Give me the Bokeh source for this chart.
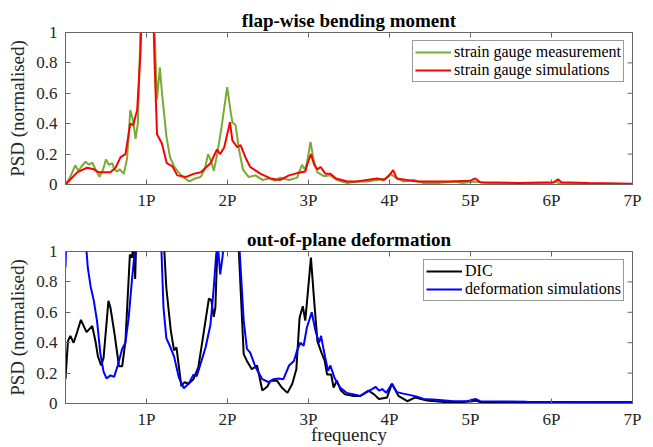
import math
from bokeh.plotting import figure
from bokeh.layouts import column
from bokeh.models import FixedTicker, LinearAxis, Range1d, Legend, LegendItem
from bokeh.embed import file_html
from bokeh.resources import INLINE

# ---------------- data (x in multiples of rotor frequency P) ----------------
x_ticks = [1, 2, 3, 4, 5, 6, 7]
x_tick_labels = ["1P", "2P", "3P", "4P", "5P", "6P", "7P"]
y_ticks = [0, 0.2, 0.4, 0.6, 0.8, 1]
y_tick_labels = ["0", "0.2", "0.4", "0.6", "0.8", "1"]
x_limits = [0, 7]
y_limits = [0, 1]

titles = ["flap-wise bending moment", "out-of-plane deformation"]
y_label = "PSD (normalised)"
x_label = "frequency"

sg_meas_x = [0, 0.06, 0.12, 0.16, 0.2, 0.247, 0.29, 0.33, 0.37, 0.42, 0.465, 0.5, 0.535, 0.58, 0.6,
             0.64, 0.67, 0.72, 0.76, 0.8, 0.835, 0.865, 0.893, 0.915, 0.94, 1.0, 1.07, 1.1, 1.13,
             1.165, 1.19, 1.245, 1.29, 1.34, 1.38, 1.45, 1.53, 1.6, 1.67, 1.72, 1.76, 1.8, 1.83,
             1.87, 1.93, 1.996, 2.04, 2.06, 2.1, 2.14, 2.19, 2.26, 2.345, 2.43, 2.51, 2.59, 2.65,
             2.76, 2.86, 2.92, 2.96, 2.99, 3.025, 3.06, 3.11, 3.19, 3.27, 3.35, 3.48, 3.6, 3.72,
             3.85, 3.95, 4.01, 4.09, 4.17, 4.3, 4.42, 4.6, 4.79, 4.9, 5.05, 5.2, 5.5, 5.8, 6.0,
             6.05, 6.1, 6.5, 7.0]
sg_meas_y = [0, 0.05, 0.126, 0.09, 0.12, 0.15, 0.13, 0.145, 0.10, 0.05, 0.10, 0.165, 0.13, 0.14, 0.10,
             0.085, 0.10, 0.07, 0.17, 0.49, 0.42, 0.30, 0.40, 0.82, 1.3, 2.0, 1.3, 1.0, 0.56,
             0.77, 0.61, 0.32, 0.18, 0.12, 0.09, 0.05, 0.02, 0.04, 0.05, 0.10, 0.20, 0.15, 0.09,
             0.19, 0.39, 0.64, 0.475, 0.41, 0.39, 0.235, 0.10, 0.05, 0.06, 0.03, 0.04, 0.025, 0.045,
             0.03, 0.045, 0.13, 0.095, 0.17, 0.28, 0.17, 0.08, 0.055, 0.06, 0.03, 0.01, 0.02, 0.02,
             0.03, 0.04, 0.07, 0.04, 0.02, 0.03, 0.01, 0.01, 0.02, 0.01, 0.02, 0.01, 0.008, 0.01, 0.005,
             0.02, 0.005, 0.005, 0.003]

sg_sim_x = [0, 0.144, 0.2, 0.267, 0.35, 0.41, 0.555, 0.617, 0.68, 0.74, 0.8, 0.835, 0.885, 0.926,
            0.95, 1.02, 1.08, 1.1, 1.13, 1.19, 1.25, 1.32, 1.38, 1.49, 1.58, 1.67, 1.79, 1.87, 1.91,
            1.96, 2.03, 2.06, 2.12, 2.16, 2.22, 2.28, 2.41, 2.53, 2.65, 2.76, 2.86, 2.96, 2.99, 3.03,
            3.07, 3.11, 3.15, 3.21, 3.27, 3.34, 3.48, 3.6, 3.72, 3.85, 3.93, 3.99, 4.045, 4.09, 4.21,
            4.34, 4.5, 4.75, 5.0, 5.06, 5.12, 5.6, 6.03, 6.08, 6.12, 6.45, 7.0]
sg_sim_y = [0, 0.08, 0.095, 0.11, 0.10, 0.08, 0.08, 0.11, 0.18, 0.20, 0.40, 0.39, 0.49, 0.87,
            1.3, 2.0, 1.2, 0.8, 0.33, 0.27, 0.14, 0.12, 0.06, 0.05, 0.07, 0.08, 0.14, 0.23, 0.20,
            0.245, 0.41, 0.29, 0.245, 0.26, 0.18, 0.115, 0.07, 0.04, 0.03, 0.06, 0.075, 0.085, 0.14, 0.20,
            0.13, 0.10, 0.115, 0.07, 0.07, 0.04, 0.02, 0.02, 0.03, 0.04, 0.03, 0.055, 0.095, 0.04, 0.03,
            0.02, 0.02, 0.02, 0.025, 0.04, 0.015, 0.01, 0.015, 0.035, 0.015, 0.01, 0.005]

dic_x = [0, 0.03, 0.06, 0.1, 0.144, 0.19, 0.26, 0.33, 0.37, 0.4, 0.44, 0.47, 0.53, 0.555, 0.605,
         0.66, 0.7, 0.74, 0.795, 0.82, 0.84, 0.86, 0.88, 0.95, 1.1, 1.21, 1.245, 1.3, 1.34, 1.37,
         1.43, 1.47, 1.52, 1.58, 1.64, 1.69, 1.77, 1.8, 1.83, 1.85, 1.87, 1.89, 2.0, 2.12, 2.14,
         2.2, 2.24, 2.3, 2.365, 2.43, 2.49, 2.53, 2.61, 2.67, 2.74, 2.8, 2.85, 2.89, 2.93, 2.96,
         2.99, 3.03, 3.07, 3.11, 3.16, 3.2, 3.23, 3.28, 3.31, 3.35, 3.4, 3.45, 3.56, 3.64, 3.74,
         3.81, 3.87, 3.97, 4.03, 4.11, 4.22, 4.32, 4.46, 4.79, 5.02, 5.06, 5.12, 5.5, 6.0, 6.5,
         6.8, 7.0]
dic_y = [0.16, 0.41, 0.445, 0.40, 0.47, 0.55, 0.47, 0.51, 0.41, 0.31, 0.25, 0.30, 0.675, 0.63, 0.46,
         0.245, 0.245, 0.41, 0.98, 0.96, 1.05, 0.82, 1.2, 2.0, 2.0, 1.1, 0.76, 0.48, 0.35, 0.37,
         0.115, 0.14, 0.13, 0.16, 0.24, 0.41, 0.69, 0.68, 0.57, 0.63, 0.94, 1.2, 2.0, 1.3, 1.0,
         0.325, 0.28, 0.225, 0.25, 0.085, 0.11, 0.15, 0.15, 0.105, 0.07, 0.13, 0.225, 0.565, 0.64, 0.545,
         0.72, 0.96, 0.675, 0.41, 0.335, 0.28, 0.19, 0.19, 0.105, 0.15, 0.085, 0.06, 0.05, 0.05, 0.085,
         0.06, 0.03, 0.04, 0.13, 0.05, 0.015, 0.04, 0.02, 0.005, 0.015, 0.02, 0.01, 0.005, 0.005, 0.0,
         0.0, 0.005]

def_sim_x = [0, 0.01, 0.1, 0.24, 0.26, 0.275, 0.31, 0.35, 0.39, 0.43, 0.47, 0.506, 0.555, 0.6, 0.645,
             0.7, 0.74, 0.78, 0.82, 0.855, 0.9, 1.0, 1.16, 1.185, 1.21, 1.245, 1.295, 1.34, 1.4, 1.46,
             1.52, 1.58, 1.62, 1.69, 1.73, 1.79, 1.83, 1.86, 1.88, 1.91, 1.94, 1.96, 2.05, 2.13, 2.15,
             2.2, 2.24, 2.28, 2.345, 2.43, 2.51, 2.57, 2.63, 2.69, 2.76, 2.82, 2.86, 2.9, 2.94, 2.98,
             3.04, 3.085, 3.13, 3.155, 3.19, 3.24, 3.27, 3.32, 3.39, 3.47, 3.56, 3.64, 3.72, 3.785, 3.83,
             3.87, 3.91, 3.96, 4.03, 4.09, 4.17, 4.26, 4.34, 4.42, 4.58, 4.79, 4.96, 5.06, 5.12, 5.7,
             6.5, 7.0]
def_sim_y = [0.895, 1.1, 2.0, 1.3, 1.0, 0.895, 0.77, 0.675, 0.54, 0.33, 0.21, 0.165, 0.185, 0.175, 0.25,
             0.36, 0.40, 0.565, 0.81, 1.0, 1.5, 2.0, 1.3, 1.0, 0.63, 0.43, 0.37, 0.31, 0.17, 0.10,
             0.13, 0.19, 0.18, 0.30, 0.37, 0.52, 0.76, 0.98, 1.05, 0.85, 0.97, 1.1, 2.0, 1.3, 1.0,
             0.545, 0.36, 0.335, 0.24, 0.16, 0.14, 0.16, 0.165, 0.16, 0.25, 0.28, 0.35, 0.40, 0.38, 0.50,
             0.60, 0.48, 0.40, 0.445, 0.345, 0.215, 0.25, 0.17, 0.105, 0.07, 0.06, 0.05, 0.075, 0.095, 0.11,
             0.085, 0.095, 0.07, 0.13, 0.075, 0.065, 0.055, 0.045, 0.03, 0.025, 0.015, 0.015, 0.03, 0.015, 0.012,
             0.01, 0.01]

series_top = [("strain gauge measurement", sg_meas_x, sg_meas_y, "#77AC30"),
              ("strain gauge simulations", sg_sim_x, sg_sim_y, "#FF0000")]
series_bot = [("DIC", dic_x, dic_y, "#000000"),
              ("deformation simulations", def_sim_x, def_sim_y, "#0000FF")]

# ---------------- styling ----------------
FONT = "Liberation Serif"
AX_COL = "#666666"
TXT_COL = "#262626"


def make_panel(title, series, height, b_top, b_bottom, show_xlabel):
    p = figure(width=653, height=height, output_backend="svg", toolbar_location=None,
               x_range=Range1d(*x_limits), y_range=Range1d(*y_limits),
               min_border_left=65, min_border_right=21,
               min_border_top=b_top, min_border_bottom=b_bottom,
               x_axis_type=None, y_axis_type=None)
    p.background_fill_color = "white"
    p.border_fill_color = "white"
    p.outline_line_color = AX_COL
    p.outline_line_width = 1
    p.xgrid.visible = False
    p.ygrid.visible = False

    p.title.text = title
    p.title.align = "center"
    p.title.text_font = FONT
    p.title.text_font_size = "19px"
    p.title.text_font_style = "bold"
    p.title.text_color = "black"
    p.title.standoff = 4

    def style_axis(ax, ticks, labels):
        ax.ticker = FixedTicker(ticks=ticks)
        ax.major_label_overrides = {t: l for t, l in zip(ticks, labels)}
        ax.axis_line_color = AX_COL
        ax.major_tick_line_color = AX_COL
        ax.major_tick_in = 5
        ax.major_tick_out = 0
        ax.minor_tick_line_color = None
        ax.major_label_text_font = FONT
        ax.major_label_text_color = TXT_COL
        ax.major_label_text_font_size = "17px"

    xb = LinearAxis()
    style_axis(xb, x_ticks, x_tick_labels)
    xb.major_label_standoff = 6
    if show_xlabel:
        xb.axis_label = x_label
        xb.axis_label_text_font = FONT
        xb.axis_label_text_font_size = "19px"
        xb.axis_label_text_font_style = "normal"
        xb.axis_label_text_color = TXT_COL
        xb.axis_label_standoff = -8
    p.add_layout(xb, "below")

    yl = LinearAxis()
    style_axis(yl, y_ticks, y_tick_labels)
    yl.major_label_standoff = 8
    yl.axis_label = y_label
    yl.axis_label_text_font = FONT
    yl.axis_label_text_font_size = "19px"
    yl.axis_label_text_font_style = "normal"
    yl.axis_label_text_color = TXT_COL
    yl.axis_label_standoff = 5
    p.add_layout(yl, "left")

    # mirrored inward ticks on the top and right box edges (half of each dash is clipped by the frame)
    p.scatter(x=x_ticks, y=[y_limits[1]] * len(x_ticks), marker="dash", size=10,
              angle=math.pi / 2, line_color=AX_COL, line_width=1)
    p.scatter(x=[x_limits[1]] * len(y_ticks), y=y_ticks, marker="dash", size=10,
              line_color=AX_COL, line_width=1)

    items = []
    for name, xs, ys, col in series:
        r = p.line(xs, ys, line_color=col, line_width=2)
        items.append(LegendItem(label=name, renderers=[r]))

    leg = Legend(items=items, location="top_right")
    leg.margin = 8
    leg.padding = 2
    leg.spacing = 0
    leg.glyph_width = 36
    leg.glyph_height = 16
    leg.label_height = 16
    leg.label_standoff = 3
    leg.label_text_font = FONT
    leg.label_text_font_size = "16px"
    leg.label_text_color = "black"
    leg.border_line_color = "#333333"
    leg.border_line_width = 1
    leg.background_fill_color = "white"
    leg.background_fill_alpha = 1.0
    p.add_layout(leg)
    return p


p1 = make_panel(titles[0], series_top, 218, 32, 34, False)
p2 = make_panel(titles[1], series_bot, 229, 33, 44, True)

layout = column(p1, p2, spacing=0)
open("out.html", "w").write(file_html(layout, INLINE))
